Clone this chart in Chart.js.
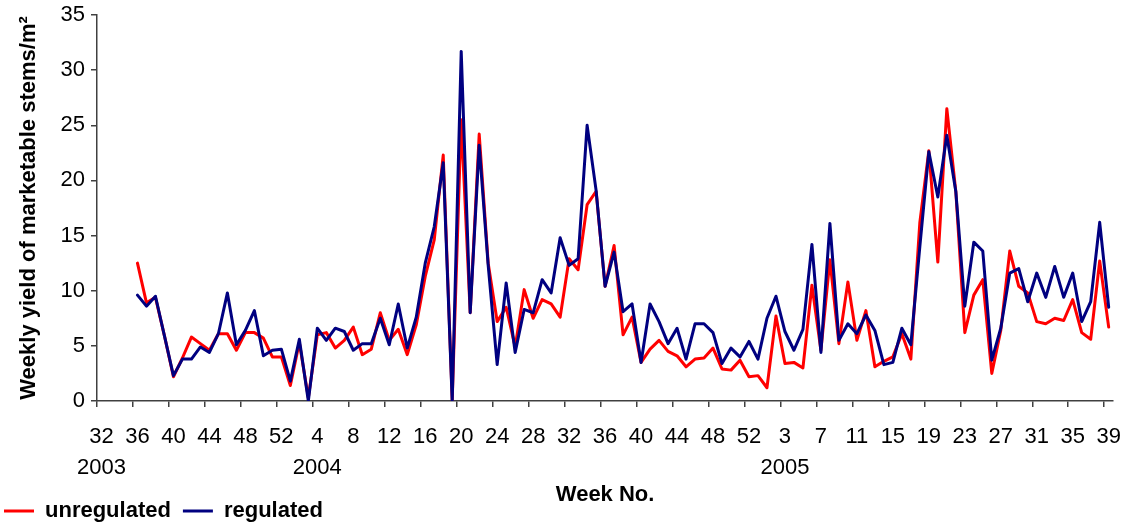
<!DOCTYPE html>
<html>
<head>
<meta charset="utf-8">
<title>Weekly yield of marketable stems</title>
<script src="https://cdn.jsdelivr.net/npm/chart.js@4.4.1/dist/chart.umd.min.js"></script>
<style>
  html, body { margin: 0; padding: 0; background: #fff; }
  canvas { display: block; }
</style>
</head>
<body>
<canvas id="yield_chart" width="1135" height="524"></canvas>
<script>
// week numbers, 2004 has 53 weeks
const weeks2003 = [32, 33, 34, 35, 36, 37, 38, 39, 40, 41, 42, 43, 44, 45, 46, 47, 48, 49, 50, 51, 52];
const weeks2004 = [1, 2, 3, 4, 5, 6, 7, 8, 9, 10, 11, 12, 13, 14, 15, 16, 17, 18, 19, 20, 21, 22, 23, 24, 25, 26,
  27, 28, 29, 30, 31, 32, 33, 34, 35, 36, 37, 38, 39, 40, 41, 42, 43, 44, 45, 46, 47, 48, 49, 50, 51, 52, 53];
const weeks2005 = [1, 2, 3, 4, 5, 6, 7, 8, 9, 10, 11, 12, 13, 14, 15, 16, 17, 18, 19, 20, 21, 22, 23, 24, 25, 26,
  27, 28, 29, 30, 31, 32, 33, 34, 35, 36, 37, 38, 39];
const years = ['2003', '2004', '2005'];

const unregulated = [null, null, null, null,
  12.5, 8.9, 9.4, 5.9, 2.2, 3.9, 5.8, 5.2, 4.6, 6.1,
  6.1, 4.6, 6.2, 6.2, 5.7, 4.0, 4.0, 1.4, 5.3, 0.3,
  6.0, 6.2, 4.8, 5.5, 6.7, 4.2, 4.7, 8.0, 5.5, 6.5,
  4.2, 6.9, 11.3, 14.6, 22.3, 0.1, 25.5, 8.0, 24.2, 12.5,
  7.2, 8.5, 4.9, 10.1, 7.5, 9.2, 8.8, 7.6, 12.9, 11.9,
  17.8, 19.0, 10.4, 14.1, 6.0, 7.6, 3.5, 4.7, 5.5, 4.5,
  4.1, 3.1, 3.8, 3.9, 4.8, 2.9, 2.8, 3.7, 2.2, 2.3,
  1.2, 7.7, 3.4, 3.5, 3.0, 10.5, 4.6, 12.8, 5.2, 10.8,
  5.5, 8.2, 3.1, 3.6, 4.0, 6.1, 3.8, 16.2, 22.7, 12.6,
  26.5, 19.0, 6.2, 9.6, 11.0, 2.5, 6.4, 13.6, 10.4, 9.8,
  7.2, 7.0, 7.5, 7.3, 9.2, 6.2, 5.6, 12.7, 6.7];

const regulated = [null, null, null, null,
  9.6, 8.6, 9.5, 5.9, 2.3, 3.8, 3.8, 4.9, 4.4, 6.1,
  9.8, 5.1, 6.4, 8.2, 4.1, 4.6, 4.7, 1.8, 5.6, 0,
  6.6, 5.5, 6.6, 6.3, 4.6, 5.2, 5.2, 7.5, 5.1, 8.8,
  4.8, 7.6, 12.5, 15.8, 21.6, 0, 31.7, 8.0, 23.2, 12.3,
  3.3, 10.7, 4.4, 8.3, 8.0, 11.0, 9.8, 14.8, 12.3, 12.9,
  25.0, 19.1, 10.4, 13.5, 8.1, 8.8, 3.5, 8.8, 7.2, 5.2,
  6.6, 3.8, 7.0, 7.0, 6.2, 3.4, 4.8, 4.0, 5.4, 3.8,
  7.5, 9.5, 6.3, 4.6, 6.5, 14.2, 4.4, 16.1, 5.5, 7.0,
  6.1, 7.8, 6.4, 3.3, 3.5, 6.6, 5.1, 14.0, 22.6, 18.5,
  24.1, 19.0, 8.6, 14.4, 13.6, 3.7, 6.6, 11.6, 12.0, 9.0,
  11.6, 9.4, 12.2, 9.4, 11.6, 7.2, 9.0, 16.2, 8.5];

const LABEL_EVERY = 4;
const axisColor = '#404040';
const fontFamily = '"Liberation Sans", Arial, sans-serif';

const weekLabels = [];
const weekYear = [];
[weeks2003, weeks2004, weeks2005].forEach((list, y) => {
  list.forEach(w => {
    weekLabels.push(String(w));
    weekYear.push(y);
  });
});

// year goes under the first labelled week of that year
const yearShown = {};
weekLabels.forEach((w, i) => {
  if (i % LABEL_EVERY === 0 && yearShown[weekYear[i]] === undefined) {
    yearShown[weekYear[i]] = i;
  }
});

function tickLabel(i) {
  if (i % LABEL_EVERY !== 0) return '';
  const y = weekYear[i];
  if (yearShown[y] === i) return [weekLabels[i], years[y]];
  return weekLabels[i];
}

const ctx = document.getElementById('yield_chart');

new Chart(ctx, {
  type: 'line',
  data: {
    labels: weekLabels,
    datasets: [
      {
        label: 'unregulated',
        data: unregulated,
        borderColor: '#ff0000',
        backgroundColor: '#ff0000',
        borderWidth: 3,
        pointRadius: 0,
        borderJoinStyle: 'round',
        borderCapStyle: 'round',
        tension: 0,
        order: 2
      },
      {
        label: 'regulated',
        data: regulated,
        borderColor: '#000080',
        backgroundColor: '#000080',
        borderWidth: 3,
        pointRadius: 0,
        borderJoinStyle: 'round',
        borderCapStyle: 'round',
        tension: 0,
        order: 1
      }
    ]
  },
  options: {
    responsive: false,
    animation: false,
    devicePixelRatio: 1,
    layout: {
      padding: { top: 15, right: 17, left: -8, bottom: 0 }
    },
    scales: {
      x: {
        type: 'category',
        offset: true,
        grid: {
          offset: true,
          drawOnChartArea: false,
          drawTicks: true,
          tickLength: 6,
          lineWidth: 1.5,
          color: c => (c.index % LABEL_EVERY === 0 ? axisColor : 'rgba(0,0,0,0)')
        },
        border: { display: true, color: axisColor, width: 1.5 },
        ticks: {
          autoSkip: false,
          maxRotation: 0,
          minRotation: 0,
          padding: 14,
          color: '#000',
          font: { family: fontFamily, size: 22, lineHeight: 1.41 },
          callback: (value, index) => tickLabel(index)
        },
        title: {
          display: true,
          text: 'Week No.',
          color: '#000',
          font: { family: fontFamily, size: 22, weight: 'bold', lineHeight: 1 },
          padding: { top: 0, bottom: -18 }
        },
        afterFit: scale => { scale.height = 87; }
      },
      y: {
        min: 0,
        max: 35,
        ticks: {
          stepSize: 5,
          padding: 6,
          color: '#000',
          font: { family: fontFamily, size: 22, lineHeight: 1 }
        },
        grid: {
          drawOnChartArea: false,
          drawTicks: true,
          tickLength: 6,
          lineWidth: 1.5,
          color: axisColor
        },
        border: { display: true, color: axisColor, width: 1.5 },
        title: {
          display: true,
          text: 'Weekly yield of marketable stems/m²',
          color: '#000',
          font: { family: fontFamily, size: 22, weight: 'bold' },
          padding: { top: 24, bottom: 0 }
        },
        afterFit: scale => {
          scale.width = 105;
          scale.paddingTop = 0;
          scale.paddingBottom = 0;
        }
      }
    },
    plugins: {
      tooltip: { enabled: false },
      legend: {
        position: 'bottom',
        align: 'start',
        maxHeight: 36,
        labels: {
          boxWidth: 30,
          boxHeight: 3,
          padding: 12,
          color: '#000',
          font: { family: fontFamily, size: 22, weight: 'bold' },
          generateLabels: chart => chart.data.datasets.map((ds, i) => ({
            text: ds.label,
            fillStyle: ds.borderColor,
            strokeStyle: ds.borderColor,
            lineWidth: 0,
            hidden: false,
            datasetIndex: i,
            fontColor: '#000'
          }))
        }
      }
    }
  }
});
</script>
</body>
</html>
